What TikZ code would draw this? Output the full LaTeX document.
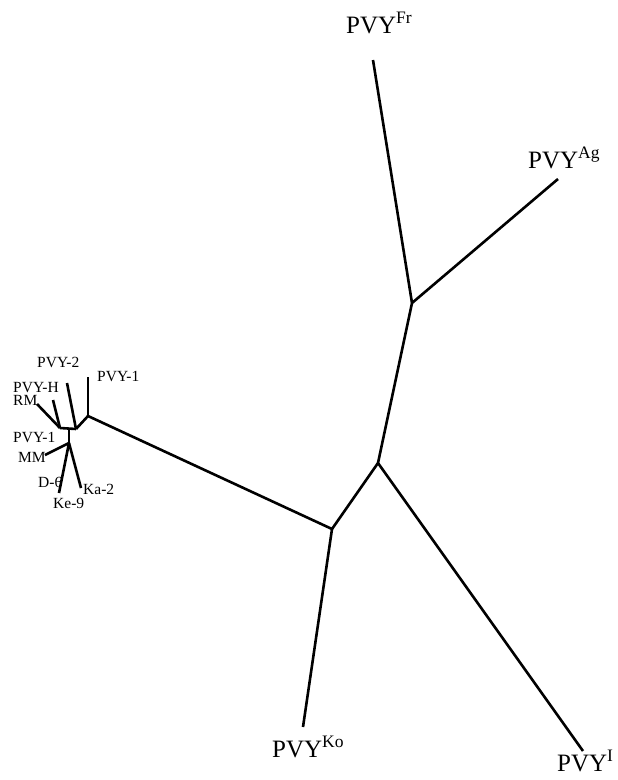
\documentclass[tikz,border=0pt]{standalone}
\usepackage{fontspec}
\setmainfont{Liberation Serif}
\usetikzlibrary{positioning}
\begin{document}
\begin{tikzpicture}[
x=1pt,y=-1pt,
br/.style={line width=2.6pt,line join=round},
lbl/.style={anchor=base west,inner sep=0pt,font=\fontsize{15.5}{16}\selectfont},
big/.style={anchor=base west,inner sep=0pt,font=\fontsize{25}{26}\selectfont}
]
\useasboundingbox (0,0) rectangle (618,780);
% inner nodes of the tree
\coordinate (nA) at (412,303);
\coordinate (nB) at (378,463);
\coordinate (nC) at (332,529);
\coordinate (nD) at (88,416);
\coordinate (nE) at (76,429);
\coordinate (nF) at (60,428);
\coordinate (nT) at (69,429);
\coordinate (nG) at (69,443);
% leaf ends
\coordinate (lfr) at (373,60);
\coordinate (lag) at (558,179);
\coordinate (li) at (583,751);
\coordinate (lko) at (303,727);
\coordinate (lp1) at (88,377);
\coordinate (lp2) at (67,383);
\coordinate (lph) at (53,400);
\coordinate (lrm) at (37,404);
\coordinate (lmm) at (45,455);
\coordinate (ld6) at (59,493);
\coordinate (lka) at (81,488);

\draw[br] (lfr)--(nA); \draw[br] (lag)--(nA); \draw[br] (nA)--(nB);
\draw[br] (nB)--(li); \draw[br] (nB)--(nC); \draw[br] (nC)--(lko); \draw[br] (nC)--(nD);
\draw[br] (nD)--(lp1); \draw[br] (nD)--(nE); \draw[br] (nE)--(lp2); \draw[br] (nE)--(nF);
\draw[br] (nF)--(lph); \draw[br] (nF)--(lrm); \draw[br] (nT)--(nG);
\draw[br] (nG)--(lmm); \draw[br] (nG)--(ld6); \draw[br] (nG)--(lka);

% big labels
\node[big] (tfr) at (346,33) {PVY\textsuperscript{Fr}};
\node[big] (tag) at (528,168) {PVY\textsuperscript{Ag}};
\node[big] (tko) at (272,757) {PVY\textsuperscript{Ko}};
\node[big] (ti) at (557,771) {PVY\textsuperscript{I}};
% small labels
\node[lbl] (tp1) at (97,381) {PVY-1};
\node[lbl] (tp2) at (37,367) {PVY-2};
\node[lbl] (tph) at (13,392) {PVY-H};
\node[lbl] (trm) at (13,405) {RM};
\node[lbl] (tp1b) at (13,442) {PVY-1};
\node[lbl] (tmm) at (18,462) {MM};
\node[lbl] (td6) at (38,487) {D-6};
\node[lbl] (tke) at (53,508) {Ke-9};
\node[lbl] (tka) at (83,494) {Ka-2};
\end{tikzpicture}
\end{document}
